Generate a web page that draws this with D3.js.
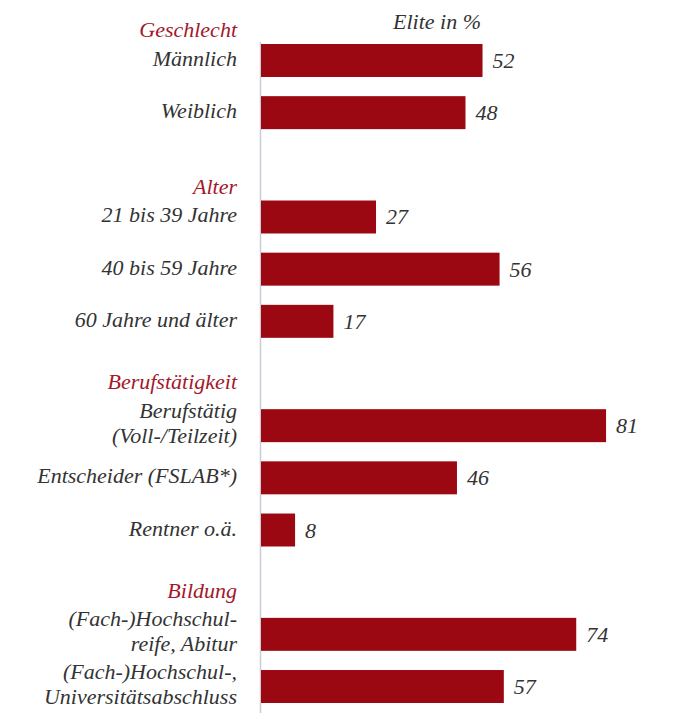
<!DOCTYPE html>
<html>
<head>
<meta charset="utf-8">
<script src="https://cdn.jsdelivr.net/npm/d3@7"></script>
<style>
  body { margin: 0; background: #fff; }
</style>
</head>
<body>
<div id="chart"></div>
<script>
/* chart data */
const groups = ['Geschlecht', 'Alter', 'Berufstätigkeit', 'Bildung'];
const labels = [
  ['Männlich'],
  ['Weiblich'],
  ['21 bis 39 Jahre'],
  ['40 bis 59 Jahre'],
  ['60 Jahre und älter'],
  ['Berufstätig', '(Voll-/Teilzeit)'],
  ['Entscheider (FSLAB*)'],
  ['Rentner o.ä.'],
  ['(Fach-)Hochschul-', 'reife, Abitur'],
  ['(Fach-)Hochschul-,', 'Universitätsabschluss']
];
const values = [52, 48, 27, 56, 17, 81, 46, 8, 74, 57];
const groupOf = [0, 0, 1, 1, 1, 2, 2, 2, 3, 3];
const axisTitle = 'Elite in %';

const W = 677;
const H = 713;
const left = 261;
const fs = '22px';

/* helper so every text gets the same serif italic look */
function serifText (sel) {
  return sel
    .style('font-family', '"Liberation Serif"')
    .style('font-style', 'italic')
    .style('font-size', fs);
}

const svg = d3.select('#chart')
  .append('svg')
  .attr('width', W)
  .attr('height', H);

/* row slots: one per bar plus an empty slot before each new group */
const rows = [];
values.forEach(function (v, i) {
  if (i > 0 && groupOf[i] !== groupOf[i - 1]) rows.push('gap' + i);
  rows.push('r' + i);
});

const x = d3.scaleLinear()
  .domain([0, 100])
  .range([left, left + 426]);

const y = d3.scaleBand()
  .domain(rows)
  .range([44, 703])
  .paddingInner(0.368)
  .paddingOuter(0);

function mid (i) { return y('r' + i) + y.bandwidth() / 2; }

/* baseline of the first line of a category label */
const lineH = 25;
function firstBase (i) {
  return labels[i].length > 1 ? mid(i) - 8 : mid(i) + 5.5;
}

/* vertical axis line */
svg.append('line')
  .attr('x1', left - 0.5)
  .attr('x2', left - 0.5)
  .attr('y1', 42)
  .attr('y2', H)
  .attr('stroke', '#c9ced6')
  .attr('stroke-width', 1.5);

/* bars */
svg.selectAll('.bar')
  .data(values)
  .enter()
  .append('rect')
  .attr('class', 'bar')
  .attr('x', x(0))
  .attr('y', function (d, i) { return y('r' + i); })
  .attr('width', function (d) { return x(d) - x(0); })
  .attr('height', y.bandwidth())
  .attr('fill', '#9c0812');

/* value labels */
serifText(svg.selectAll('.val')
  .data(values)
  .enter()
  .append('text')
  .attr('class', 'val')
  .attr('x', function (d) { return x(d) + 10; })
  .attr('y', function (d, i) { return mid(i) + 7.5; })
  .attr('fill', '#333'))
  .text(function (d) { return d; });

/* category labels, one or two lines */
const lab = serifText(svg.selectAll('.lab')
  .data(labels)
  .enter()
  .append('text')
  .attr('class', 'lab')
  .attr('text-anchor', 'end')
  .attr('fill', '#333'));
lab.each(function (lines, i) {
  const b = firstBase(i);
  d3.select(this).selectAll('tspan')
    .data(lines)
    .enter()
    .append('tspan')
    .attr('x', 237)
    .attr('y', function (l, j) { return b + j * lineH; })
    .text(function (l) { return l; });
});

/* group headers above the first label of each group */
groups.forEach(function (g, gi) {
  const i = groupOf.indexOf(gi);
  serifText(svg.append('text')
    .attr('x', 237)
    .attr('y', firstBase(i) - 28.5)
    .attr('text-anchor', 'end')
    .attr('fill', '#a3182b'))
    .text(g);
});

/* axis title */
serifText(svg.append('text')
  .attr('x', 437)
  .attr('y', 29)
  .attr('text-anchor', 'middle')
  .attr('fill', '#333'))
  .text(axisTitle);
</script>
</body>
</html>
